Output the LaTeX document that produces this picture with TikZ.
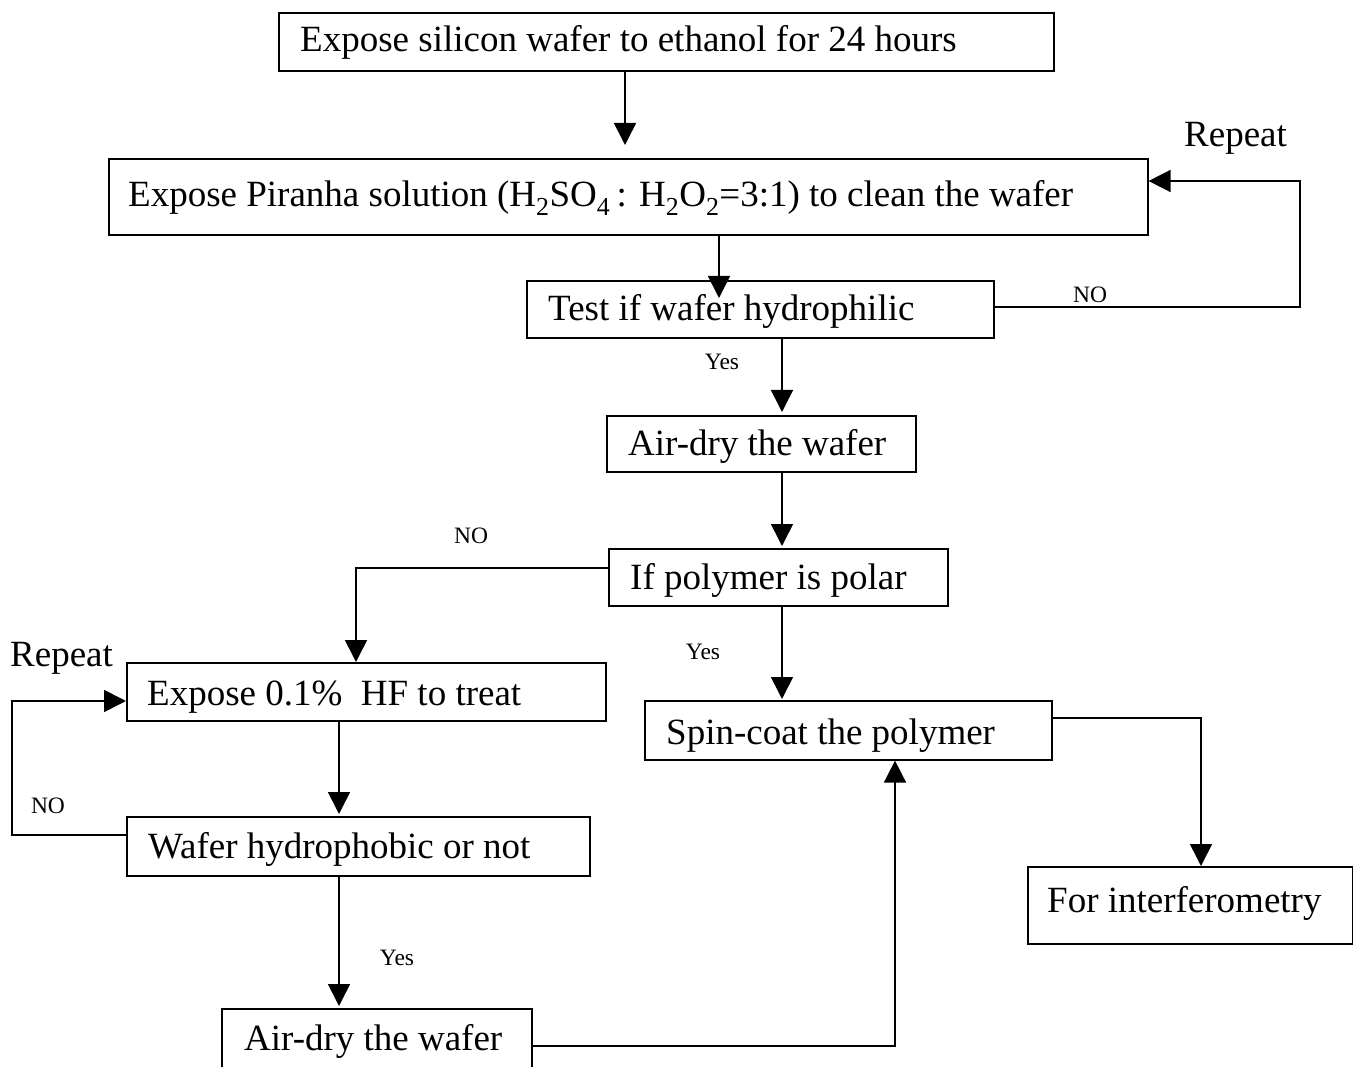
\documentclass[tikz,border=0pt]{standalone}
\usepackage{fontspec}
\setmainfont{Liberation Serif}
\usetikzlibrary{arrows.meta}
\tikzset{
  box/.style={draw, line width=1.6pt, anchor=north west, inner sep=0pt},
  txt/.style={anchor=base west, inner sep=0pt, font=\fontsize{37}{42}\selectfont},
  lbl/.style={anchor=base, inner sep=0pt, font=\fontsize{23.5}{27}\selectfont},
  conn/.style={line width=1.6pt, -{Triangle[length=22pt,width=22pt]}},
  plain/.style={line width=1.6pt}
}
\begin{document}
\begin{tikzpicture}[x=1pt,y=-1pt]
\useasboundingbox (0,0) rectangle (1353,1067);
\clip (0,0) rectangle (1353,1067);
% boxes
\node[box, minimum width=775, minimum height=58] (b1) at (278,12) {};
\node[box, minimum width=1039, minimum height=76] (b2) at (108,158) {};
\node[box, minimum width=467, minimum height=57] (b3) at (526,280) {};
\node[box, minimum width=309, minimum height=56] (b4) at (606,415) {};
\node[box, minimum width=339, minimum height=57] (b5) at (608,548) {};
\node[box, minimum width=479, minimum height=58] (b6) at (126,662) {};
\node[box, minimum width=407, minimum height=59] (b7) at (644,700) {};
\node[box, minimum width=463, minimum height=59] (b8) at (126,816) {};
\node[box, minimum width=325, minimum height=77] (b9) at (1027,866) {};
\node[box, minimum width=310, minimum height=80] (b10) at (221,1008) {};
% texts
\node[txt] (t1) at (300,52) {Expose silicon wafer to ethanol for 24 hours};
\node[txt] (t2) at (128,207) {Expose Piranha solution (H\textsubscript{2}SO\textsubscript{4}\,: H\textsubscript{2}O\textsubscript{2}=3:1) to clean the wafer};
\node[txt] (t3) at (548,321) {Test if wafer hydrophilic};
\node[txt] (t4) at (628,455) {Air-dry the wafer};
\node[txt] (t5) at (630,589) {If polymer is polar};
\node[txt] (t6) at (147,705) {Expose 0.1\%\ \ HF to treat};
\node[txt] (t7) at (666,744) {Spin-coat the polymer};
\node[txt] (t8) at (148,858) {Wafer hydrophobic or not};
\node[txt] (t9) at (1047,912) {For interferometry};
\node[txt] (t10) at (244,1050) {Air-dry the wafer};
% labels
\node[txt] (r1) at (1184,147) {Repeat};
\node[txt] (r2) at (10,666) {Repeat};
\node[lbl] (no1) at (1090,303) {NO};
\node[lbl] (no2) at (471,543) {NO};
\node[lbl] (no3) at (48,813) {NO};
\node[lbl] (y1) at (722,370) {Yes};
\node[lbl] (y2) at (703,659) {Yes};
\node[lbl] (y3) at (397,965) {Yes};
% coordinates
\coordinate (c1) at (625,145);
\coordinate (c2) at (1300,307);
\coordinate (c3) at (1300,181);
\coordinate (c4) at (356,568);
\coordinate (c5) at (12,835);
\coordinate (c6) at (12,701);
\coordinate (c7) at (895,1046);
\coordinate (c8) at (1201,718);
% connectors
\draw[conn] (b1.south -| c1) -- (c1);
\draw[conn] (719,234) -- (719,298);
\draw[conn] (b3.east |- c2) -- (c2) -- (c3) -- (b2.east |- c3);
\draw[conn] (782,337) -- (782,412);
\draw[conn] (782,471) -- (782,546);
\draw[conn] (782,605) -- (782,699);
\draw[conn] (b5.west |- c4) -- (c4) -- (c4 |- b6.north);
\draw[conn] (339,720) -- (339,814);
\draw[conn] (b8.west |- c5) -- (c5) -- (c6) -- (b6.west |- c6);
\draw[conn] (339,875) -- (339,1006);
\draw[conn] (b10.east |- c7) -- (c7) -- (c7 |- b7.south);
\draw[conn] (b7.east |- c8) -- (c8) -- (c8 |- b9.north);
\end{tikzpicture}
\end{document}
